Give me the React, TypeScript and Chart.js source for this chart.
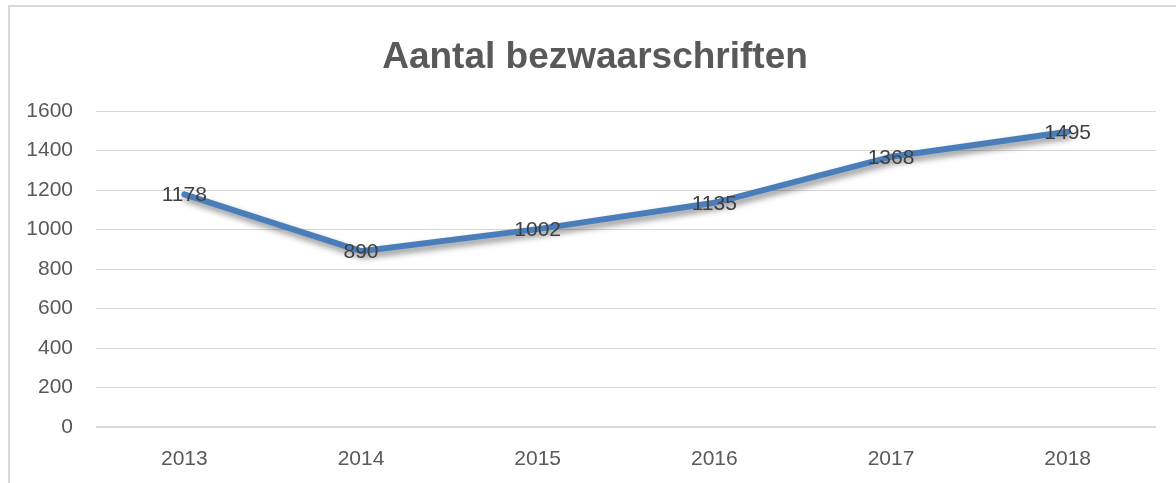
import React, { useEffect, useRef } from "react";
import { Chart, registerables } from "chart.js";

Chart.register(...registerables);

const TITLE = "Aantal bezwaarschriften";
const YEARS = ["2013", "2014", "2015", "2016", "2017", "2018"];
const COUNTS = [1178, 890, 1002, 1135, 1368, 1495];
const Y_MIN = 0;
const Y_MAX = 1600;
const Y_STEP = 200;

const FONT = "'Liberation Sans', Arial, sans-serif";

const shadowPlugin = {
  id: "lineShadow",
  beforeDatasetsDraw(chart: any) {
    const ctx = chart.ctx;
    ctx.save();
    ctx.shadowColor = "rgba(0,0,0,0.45)";
    ctx.shadowBlur = 6;
    ctx.shadowOffsetX = 2;
    ctx.shadowOffsetY = 4;
  },
  afterDatasetsDraw(chart: any) {
    chart.ctx.restore();
  },
};

const labelPlugin = {
  id: "pointLabels",
  afterDatasetsDraw(chart: any) {
    const ctx = chart.ctx;
    chart.data.datasets.forEach((ds: any, di: number) => {
      const meta = chart.getDatasetMeta(di);
      meta.data.forEach((pt: any, i: number) => {
        ctx.save();
        ctx.font = `21px ${FONT}`;
        ctx.fillStyle = "#404040";
        ctx.textAlign = "center";
        ctx.textBaseline = "middle";
        ctx.fillText(String(ds.data[i]), pt.x, pt.y + 1);
        ctx.restore();
      });
    });
  },
};

const titlePlugin = {
  id: "offsetTitle",
  afterDraw(chart: any) {
    const ctx = chart.ctx;
    ctx.save();
    ctx.font = `bold 37px ${FONT}`;
    ctx.fillStyle = "#595959";
    ctx.textAlign = "center";
    ctx.textBaseline = "alphabetic";
    ctx.fillText(TITLE, 595, 68);
    ctx.restore();
  },
};

export default function App() {
  const ref = useRef<HTMLCanvasElement | null>(null);

  useEffect(() => {
    if (!ref.current) return;
    const chart = new Chart(ref.current, {
      type: "line",
      data: {
        labels: YEARS,
        datasets: [
          {
            data: COUNTS,
            borderColor: "#4a7ebb",
            backgroundColor: "#4a7ebb",
            borderWidth: 6,
            pointRadius: 0,
            pointHoverRadius: 0,
            tension: 0,
            borderJoinStyle: "round",
            borderCapStyle: "round",
          } as any,
        ],
      },
      plugins: [shadowPlugin, labelPlugin, titlePlugin],
      options: {
        animation: false,
        responsive: false,
        maintainAspectRatio: false,
        layout: { padding: { left: 0, right: 20, top: 111, bottom: 0 } },
        plugins: {
          legend: { display: false },
          tooltip: { enabled: false },
          title: { display: false },
        },
        scales: {
          x: {
            type: "category",
            offset: true,
            grid: { display: false, drawTicks: false },
            border: { display: false },
            ticks: {
              color: "#595959",
              font: { family: FONT, size: 21 },
              padding: 20,
              maxRotation: 0,
            },
            afterFit: (s: any) => {
              s.height = 56;
            },
          },
          y: {
            min: Y_MIN,
            max: Y_MAX,
            grid: {
              drawTicks: false,
              color: "#d9d9d9",
              lineWidth: (c: any) => (c.tick && c.tick.value === 0 ? 2 : 1),
            },
            border: { display: false },
            ticks: {
              stepSize: Y_STEP,
              color: "#595959",
              font: { family: FONT, size: 21 },
              padding: 23,
              callback: (v: any) => String(v),
            },
            afterFit: (s: any) => {
              s.width = 96;
            },
          },
        },
      },
    });
    return () => chart.destroy();
  }, []);

  return (
    <div style={{ position: "fixed", left: 0, top: 0, width: 1176, height: 483, overflow: "hidden", background: "#fff" }}>
      <div
        style={{
          position: "absolute",
          left: 8,
          top: 5,
          width: 1220,
          height: 540,
          border: "2px solid #d9d9d9",
          boxSizing: "border-box",
        }}
      />
      <canvas ref={ref} width={1176} height={483} style={{ position: "absolute", left: 0, top: 0, width: 1176, height: 483 }} />
    </div>
  );
}
